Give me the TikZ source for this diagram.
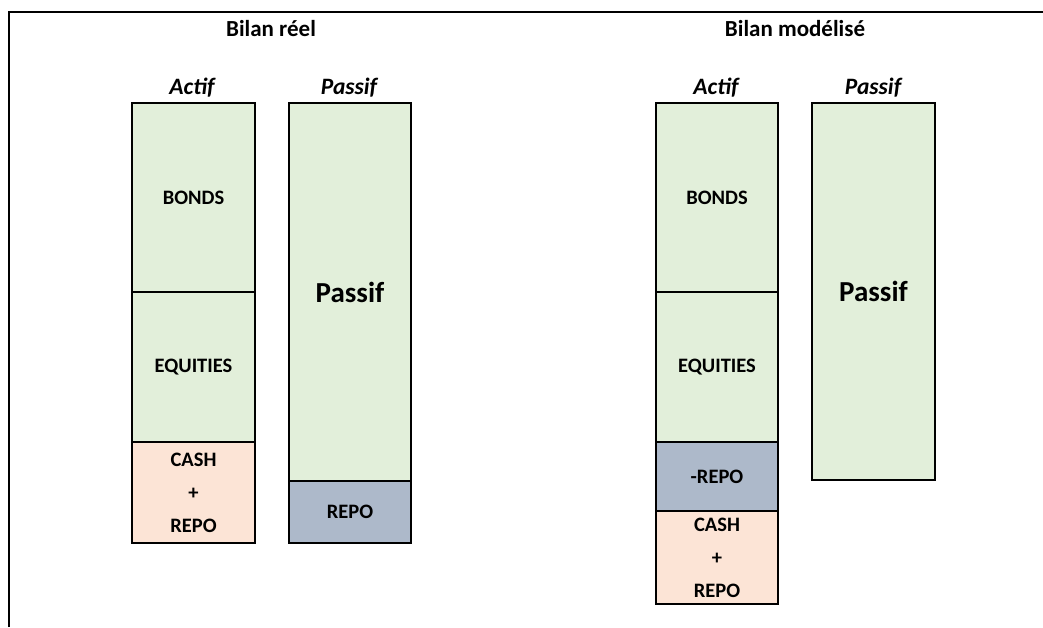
\documentclass[tikz,border=0pt]{standalone}
\usepackage{fontspec}
\setmainfont{Carlito}
\definecolor{gr}{HTML}{E2EFDA}
\definecolor{pe}{HTML}{FCE4D6}
\definecolor{bl}{HTML}{ADB9CA}
\begin{document}
\begin{tikzpicture}[x=1pt,y=-1pt,
  box/.style={draw=black, line width=2pt, inner sep=0pt, anchor=north west, minimum width=123,
    font=\bfseries\fontsize{20.5}{33}\selectfont, align=center},
  title/.style={font=\bfseries\fontsize{23}{27}\selectfont},
  head/.style={font=\bfseries\itshape\fontsize{23.5}{27}\selectfont},
  big/.style={font=\bfseries\fontsize{29}{34}\selectfont}]
\useasboundingbox (0,0) rectangle (1043,627);
\draw[line width=1.5pt] (9,627) -- (9,12) -- (1043,12);
% left
\node[title] (t1) at (271,29) {Bilan réel};
\node[head] (h1) at (192,88) {Actif};
\node[head] (h2) at (349,88) {Passif};
\node[box, fill=gr, minimum height=189] (b1) at (131,102) {BONDS};
\node[box, fill=gr, minimum height=150] (e1) at (131,291) {EQUITIES};
\node[box, fill=pe, minimum height=101] (c1) at (131,441) {CASH\\+\\REPO};
\node[box, fill=gr, minimum height=378, minimum width=122] (p1) at (288,102) {};
\node[big] (pt1) at (p1.center) {Passif};
\node[box, fill=bl, minimum height=62, minimum width=122] (r1) at (288,480) {REPO};
% right
\node[title] (t2) at (795,29) {Bilan modélisé};
\node[head] (h3) at (716,88) {Actif};
\node[head] (h4) at (873,88) {Passif};
\node[box, fill=gr, minimum height=189, minimum width=122] (b2) at (655,102) {BONDS};
\node[box, fill=gr, minimum height=150, minimum width=122] (e2) at (655,291) {EQUITIES};
\node[box, fill=bl, minimum height=69, minimum width=122] (m2) at (655,441) {-REPO};
\node[box, fill=pe, minimum height=93, minimum width=122] (c2) at (655,510) {CASH\\+\\REPO};
\node[box, fill=gr, minimum height=377] (p2) at (811,102) {};
\node[big] (pt2) at (p2.center) {Passif};
\end{tikzpicture}
\end{document}
